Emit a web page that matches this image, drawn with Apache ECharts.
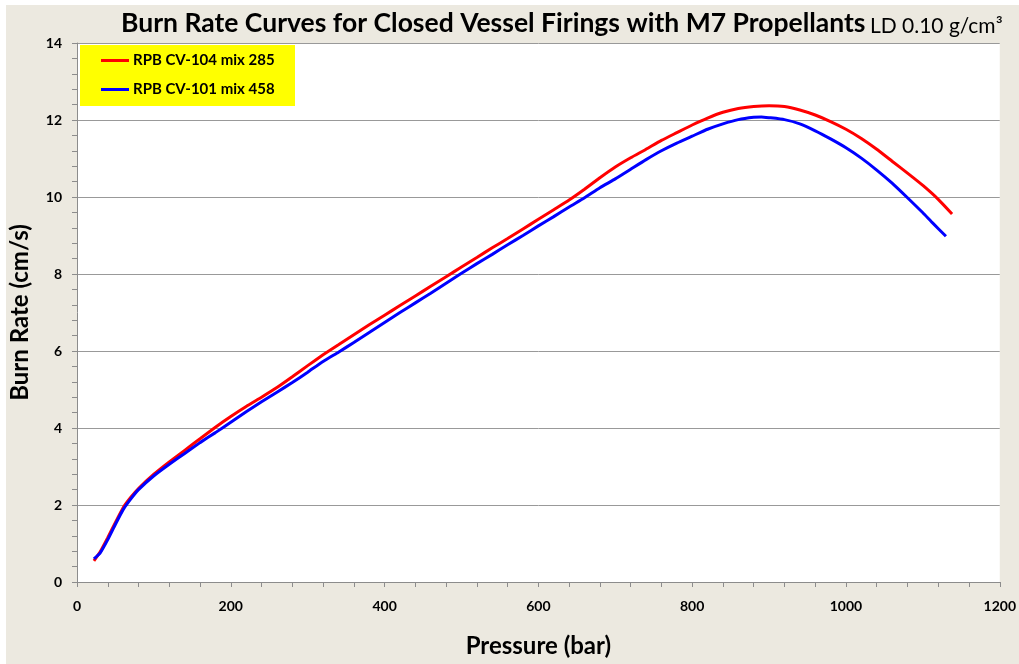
<!DOCTYPE html>
<html>
<head>
<meta charset="utf-8">
<script src="https://cdn.jsdelivr.net/npm/echarts@6/dist/echarts.min.js"></script>
<style>
  html, body { margin: 0; padding: 0; background: #ffffff; }
  #panel { position: absolute; left: 6px; top: 5px; width: 1013px; height: 659px; background: #ECE9E0; }
  #chart { position: absolute; left: 0; top: 0; width: 1019px; height: 664px; }
</style>
</head>
<body>
<div id="panel"></div>
<div id="chart"></div>
<script>
// Closed vessel burn rate vs pressure, M7 propellant, loading density 0.10 g/cm3
const seriesNames = ['RPB CV-104 mix 285', 'RPB CV-101 mix 458'];

// [pressure (bar), burn rate (cm/s)]
const cv104 = [
  [22,0.55],[30,0.78],[40,1.15],[50,1.55],[60,1.93],[70,2.20],[80,2.43],[100,2.80],[120,3.12],
  [140,3.42],[160,3.72],[180,4.02],[200,4.30],[220,4.56],[240,4.80],[260,5.05],[280,5.33],
  [300,5.62],[320,5.90],[340,6.16],[360,6.42],[380,6.68],[400,6.93],[420,7.18],[440,7.43],
  [460,7.68],[480,7.93],[500,8.18],[520,8.43],[540,8.68],[560,8.92],[580,9.17],[600,9.42],
  [620,9.67],[640,9.92],[660,10.20],[680,10.50],[700,10.78],[720,11.02],[740,11.24],[760,11.47],
  [780,11.67],[800,11.87],[820,12.05],[840,12.20],[860,12.30],[880,12.35],[900,12.37],[920,12.35],
  [940,12.26],[960,12.13],[980,11.96],[1000,11.76],[1020,11.52],[1040,11.24],[1060,10.93],
  [1080,10.62],[1100,10.30],[1120,9.94],[1138,9.56]
];
const cv101 = [
  [22,0.60],[30,0.75],[40,1.10],[50,1.50],[60,1.88],[70,2.16],[80,2.40],[100,2.76],[120,3.06],
  [140,3.34],[160,3.62],[180,3.88],[200,4.15],[220,4.42],[240,4.68],[260,4.93],[280,5.18],
  [300,5.45],[320,5.73],[340,5.97],[360,6.22],[380,6.48],[400,6.74],[420,7.00],[440,7.25],
  [460,7.50],[480,7.76],[500,8.02],[520,8.27],[540,8.51],[560,8.76],[580,9.00],[600,9.25],
  [620,9.49],[640,9.74],[660,9.98],[680,10.24],[700,10.47],[720,10.72],[740,10.97],[760,11.20],
  [780,11.40],[800,11.58],[820,11.76],[840,11.90],[860,12.01],[880,12.07],[890,12.08],[900,12.06],
  [920,12.01],[940,11.90],[960,11.72],[980,11.51],[1000,11.28],[1020,11.01],[1040,10.70],
  [1060,10.36],[1080,9.98],[1100,9.59],[1112,9.34],[1130,8.98]
];

const xTicks = [0, 200, 400, 600, 800, 1000, 1200];
const yTicks = [0, 2, 4, 6, 8, 10, 12, 14];

const FONT = 'Lato';
const chart = echarts.init(document.getElementById('chart'), null, { renderer: 'canvas' });

chart.setOption({
  backgroundColor: 'transparent',
  animation: false,
  textStyle: { fontFamily: FONT },
  title: {
    text: '{main|Burn Rate Curves for Closed Vessel Firings with M7 Propellants} {sub|LD 0.10 g/cm³}',
    left: 116,
    top: 5,
    textStyle: {
      rich: {
        main: { fontFamily: FONT, fontWeight: 'bold', fontSize: 26.5, color: '#000' },
        sub: { fontFamily: FONT, fontWeight: 'normal', fontSize: 21, color: '#000', padding: [5, 0, 0, 0] }
      }
    }
  },
  graphic: [{
    type: 'rect',
    left: 80, top: 45,
    shape: { width: 215, height: 61 },
    style: { fill: '#FFFF00' },
    z: 5
  }],
  legend: {
    left: 101,
    top: 53,
    padding: 0,
    orient: 'vertical',
    itemGap: 14,
    itemWidth: 28,
    itemHeight: 3,
    z: 10,
    data: seriesNames.map(n => ({ name: n, icon: 'rect' })),
    textStyle: { fontFamily: FONT, fontWeight: 'bold', fontSize: 15, color: '#000', padding: [0, 0, 0, -1] }
  },
  grid: {
    left: 77, right: 13, top: 43, bottom: 82,
    show: true, backgroundColor: '#ffffff', borderWidth: 0
  },
  xAxis: {
    type: 'value',
    min: xTicks[0], max: xTicks[xTicks.length - 1], interval: 200,
    name: 'Pressure (bar)',
    nameLocation: 'middle',
    nameGap: 52,
    nameTextStyle: { fontFamily: FONT, fontWeight: 'bold', fontSize: 24, color: '#000' },
    axisLine: { show: true, lineStyle: { color: '#8c8c8c', width: 1 } },
    axisTick: { show: true, inside: false, length: 5, lineStyle: { color: '#8c8c8c' } },
    minorTick: { show: true, splitNumber: 5, length: 5, lineStyle: { color: '#8c8c8c' } },
    axisLabel: { margin: 17, fontFamily: FONT, fontWeight: 'bold', fontSize: 14, color: '#000',
                 formatter: v => String(v) },
    splitLine: { show: false }
  },
  yAxis: {
    type: 'value',
    min: yTicks[0], max: yTicks[yTicks.length - 1], interval: 2,
    name: 'Burn Rate (cm/s)',
    nameLocation: 'middle',
    nameRotate: 90,
    nameGap: 45,
    nameTextStyle: { fontFamily: FONT, fontWeight: 'bold', fontSize: 24, color: '#000' },
    axisLine: { show: true, lineStyle: { color: '#8c8c8c', width: 1 } },
    axisTick: { show: true, inside: false, length: 5, lineStyle: { color: '#8c8c8c' } },
    minorTick: { show: true, splitNumber: 5, length: 5, lineStyle: { color: '#8c8c8c' } },
    axisLabel: { margin: 15, fontFamily: FONT, fontWeight: 'bold', fontSize: 14, color: '#000' },
    splitLine: { show: true, lineStyle: { color: '#999999', width: 1 } }
  },
  series: [
    {
      name: seriesNames[0], type: 'line', data: cv104,
      showSymbol: false, symbol: 'none', smooth: 0.15,
      lineStyle: { color: '#FF0000', width: 3 }, itemStyle: { color: '#FF0000' }, z: 3
    },
    {
      name: seriesNames[1], type: 'line', data: cv101,
      showSymbol: false, symbol: 'none', smooth: 0.15,
      lineStyle: { color: '#0000FF', width: 3 }, itemStyle: { color: '#0000FF' }, z: 4
    }
  ]
});
</script>
</body>
</html>
